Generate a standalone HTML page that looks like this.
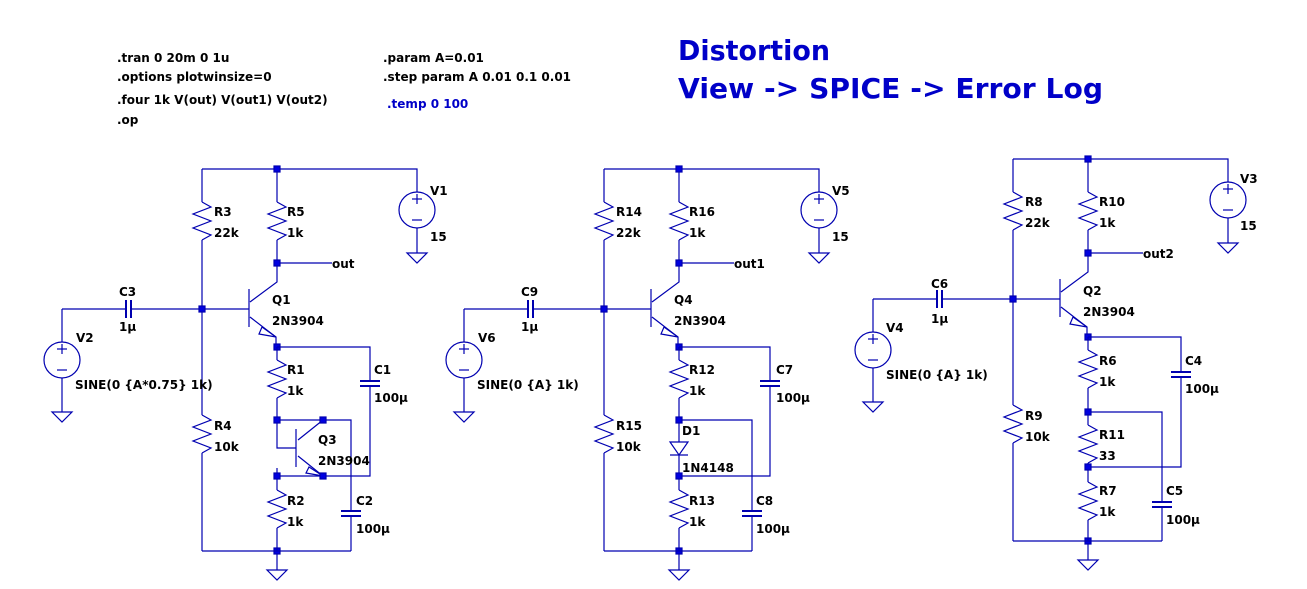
<!DOCTYPE html>
<html><head><meta charset="utf-8"><style>
html,body{margin:0;padding:0;background:#fff;}
svg{display:block;}
text{font-family:"DejaVu Sans","Liberation Sans",sans-serif;font-weight:bold;font-size:12px;fill:#000;}
.t{fill:#0000c8;font-size:28px;}
</style></head><body>
<svg width="1307" height="589" viewBox="0 0 1307 589" xmlns="http://www.w3.org/2000/svg">
<defs>
<g id="res" fill="none" stroke="#0000b0" stroke-width="1.2">
<polyline points="0,0 9,5 -9,12 9,19 -9,26 9,33 0,38"/>
</g>
<g id="gnd" fill="none" stroke="#0000b0" stroke-width="1.2">
<polygon points="-10,0 10,0 0,10"/>
</g>
<g id="vsrc" fill="none" stroke="#0000b0" stroke-width="1.2">
<circle cx="0" cy="0" r="18"/>
<line x1="-5" y1="-11" x2="5" y2="-11"/><line x1="0" y1="-16" x2="0" y2="-6"/>
<line x1="-5" y1="10" x2="5" y2="10"/>
</g>
<g id="capv" stroke="#0000b0" stroke-width="2">
<line x1="-10" y1="0" x2="10" y2="0"/><line x1="-10" y1="5" x2="10" y2="5"/>
</g>
<g id="dot" fill="#0000e0"><rect x="-3" y="-3" width="6" height="6"/></g>
<g id="top" fill="none" stroke="#0000b0" stroke-width="1.2">
<path d="M202,169 H417 V192 M417,228 V253 M202,169 V202 M202,240 V415 M202,453 V551 M277,169 V202 M277,240 V282 L250,302 M249,289 V327 M250,317 L276,337 V347 M62,309 H126 M131,309 H249 M62,309 V342 M62,378 V412 M277,263 H332 M277,551 V570"/>
<path d="M262,327 L276,337 L259,334 Z"/>
<line x1="126" y1="300" x2="126" y2="318" stroke-width="2"/><line x1="131" y1="300" x2="131" y2="318" stroke-width="2"/>
<use href="#res" x="202" y="202"/><use href="#res" x="277" y="202"/><use href="#res" x="202" y="415"/>
<use href="#vsrc" x="417" y="210"/><use href="#vsrc" x="62" y="360"/>
<use href="#gnd" x="417" y="253"/><use href="#gnd" x="62" y="412"/><use href="#gnd" x="277" y="570"/>
<use href="#dot" x="277" y="169"/><use href="#dot" x="202" y="309"/><use href="#dot" x="277" y="263"/><use href="#dot" x="277" y="347"/><use href="#dot" x="277" y="551"/>
</g>
</defs>

<use href="#top"/>
<g fill="none" stroke="#0000b0" stroke-width="1.2">
<path d="M277,347 H370 V381 M370,386 V476 H277 M277,347 V360 M277,398 V420 H351 V511 M351,516 V551 M202,551 H351 M277,468 V490 M277,528 V551 M277,420 V448 H296 M296,429 V467 M298,440 L323,420 M298,456 L323,476"/>
<path d="M309,467 L323,476 L306,473 Z"/>
<use href="#res" x="277" y="360"/><use href="#res" x="277" y="490"/>
<use href="#capv" x="370" y="381"/><use href="#capv" x="351" y="511"/>
<use href="#dot" x="277" y="420"/><use href="#dot" x="323" y="420"/><use href="#dot" x="323" y="476"/><use href="#dot" x="277" y="476"/>
</g>

<g transform="translate(402,0)">
<use href="#top"/>
<g fill="none" stroke="#0000b0" stroke-width="1.2">
<path d="M277,347 H368 V381 M368,386 V476 H277 M277,347 V360 M277,398 V420 H350 V511 M350,516 V551 M202,551 H350 M277,420 V442 M277,455 V490 M277,528 V551"/>
<polygon points="268,442 286,442 277,455"/><line x1="268" y1="455" x2="286" y2="455"/>
<use href="#res" x="277" y="360"/><use href="#res" x="277" y="490"/>
<use href="#capv" x="368" y="381"/><use href="#capv" x="350" y="511"/>
<use href="#dot" x="277" y="420"/><use href="#dot" x="277" y="476"/>
</g>
</g>

<g transform="translate(811,-10)">
<use href="#top"/>
<g fill="none" stroke="#0000b0" stroke-width="1.2">
<path d="M277,347 H370 V382 M370,387 V477 H277 M277,347 V360 M277,398 V435 M277,422 H351 V512 M351,517 V551 M202,551 H351 M277,473 V492 M277,530 V551"/>
<use href="#res" x="277" y="360"/><use href="#res" x="277" y="435"/><use href="#res" x="277" y="492"/>
<use href="#capv" x="370" y="382"/><use href="#capv" x="351" y="512"/>
<use href="#dot" x="277" y="422"/><use href="#dot" x="277" y="477"/>
</g>
</g>

<text x="117" y="62">.tran 0 20m 0 1u</text>
<text x="117" y="81">.options plotwinsize=0</text>
<text x="117" y="104">.four 1k V(out) V(out1) V(out2)</text>
<text x="117" y="124">.op</text>
<text x="383" y="62">.param A=0.01</text>
<text x="383" y="81">.step param A 0.01 0.1 0.01</text>
<text x="387" y="108" style="fill:#0000c8">.temp 0 100</text>
<text class="t" x="678" y="60" textLength="152" lengthAdjust="spacingAndGlyphs">Distortion</text>
<text class="t" x="678" y="98" textLength="425" lengthAdjust="spacingAndGlyphs">View -&gt; SPICE -&gt; Error Log</text>

<text x="430" y="195">V1</text><text x="430" y="241">15</text>
<text x="214" y="216">R3</text><text x="214" y="237">22k</text>
<text x="287" y="216">R5</text><text x="287" y="237">1k</text>
<text x="332" y="268">out</text>
<text x="119" y="296">C3</text><text x="119" y="331">1µ</text>
<text x="76" y="342">V2</text><text x="75" y="389">SINE(0 {A*0.75} 1k)</text>
<text x="272" y="304">Q1</text><text x="272" y="325">2N3904</text>
<text x="287" y="374">R1</text><text x="287" y="395">1k</text>
<text x="374" y="374">C1</text><text x="374" y="402">100µ</text>
<text x="214" y="430">R4</text><text x="214" y="451">10k</text>
<text x="318" y="444">Q3</text><text x="318" y="465">2N3904</text>
<text x="287" y="505">R2</text><text x="287" y="526">1k</text>
<text x="356" y="505">C2</text><text x="356" y="533">100µ</text>

<text x="832" y="195">V5</text><text x="832" y="241">15</text>
<text x="616" y="216">R14</text><text x="616" y="237">22k</text>
<text x="689" y="216">R16</text><text x="689" y="237">1k</text>
<text x="734" y="268">out1</text>
<text x="521" y="296">C9</text><text x="521" y="331">1µ</text>
<text x="478" y="342">V6</text><text x="477" y="389">SINE(0 {A} 1k)</text>
<text x="674" y="304">Q4</text><text x="674" y="325">2N3904</text>
<text x="689" y="374">R12</text><text x="689" y="395">1k</text>
<text x="776" y="374">C7</text><text x="776" y="402">100µ</text>
<text x="616" y="430">R15</text><text x="616" y="451">10k</text>
<text x="682" y="435">D1</text><text x="682" y="472">1N4148</text>
<text x="689" y="505">R13</text><text x="689" y="526">1k</text>
<text x="756" y="505">C8</text><text x="756" y="533">100µ</text>

<text x="1240" y="183">V3</text><text x="1240" y="230">15</text>
<text x="1025" y="206">R8</text><text x="1025" y="227">22k</text>
<text x="1099" y="206">R10</text><text x="1099" y="227">1k</text>
<text x="1143" y="258">out2</text>
<text x="931" y="288">C6</text><text x="931" y="323">1µ</text>
<text x="886" y="332">V4</text><text x="886" y="379">SINE(0 {A} 1k)</text>
<text x="1083" y="295">Q2</text><text x="1083" y="316">2N3904</text>
<text x="1099" y="365">R6</text><text x="1099" y="386">1k</text>
<text x="1185" y="365">C4</text><text x="1185" y="393">100µ</text>
<text x="1025" y="420">R9</text><text x="1025" y="441">10k</text>
<text x="1099" y="439">R11</text><text x="1099" y="460">33</text>
<text x="1099" y="495">R7</text><text x="1099" y="516">1k</text>
<text x="1166" y="495">C5</text><text x="1166" y="524">100µ</text>
</svg>
</body></html>
